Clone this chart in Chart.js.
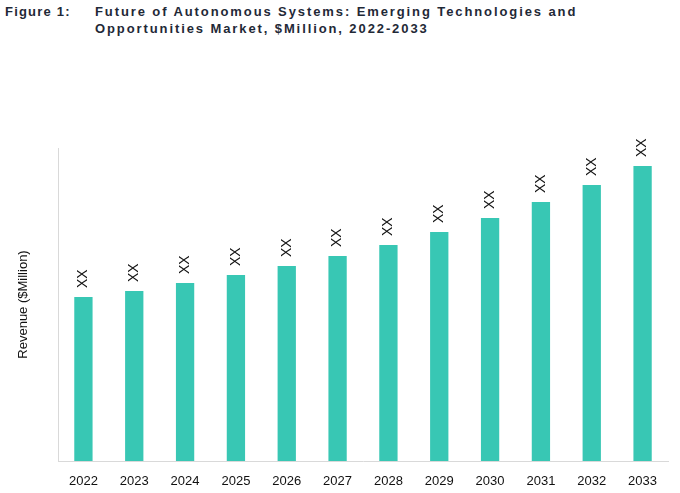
<!DOCTYPE html>
<html>
<head>
<meta charset="utf-8">
<script src="https://cdn.jsdelivr.net/npm/chart.js@4"></script>
<style>
  body { margin: 0; background: #fff; }
  #wrap { position: relative; width: 680px; height: 493px; }
  .title {
    position: absolute; top: 3px; left: 5px;
    font-family: "Liberation Sans", Arial, sans-serif;
    font-weight: bold; font-size: 13px; line-height: 17px;
    letter-spacing: 1.9px; color: #1f2937; white-space: nowrap;
  }
  .title .num { position: absolute; left: 0; top: 0; letter-spacing: 1.2px; }
  .title .txt { position: absolute; left: 90px; top: 0; }
  canvas { position: absolute; top: 0; left: 0; }
</style>
</head>
<body>
<div id="wrap">
  <div class="title">
    <span class="num">Figure&nbsp;1:</span>
    <span class="txt">Future of Autonomous Systems: Emerging Technologies and<br>Opportunities Market, $Million, 2022-2033</span>
  </div>
  <canvas id="chart" width="680" height="493"></canvas>
</div>
<script>
const years = ["2022", "2023", "2024", "2025", "2026", "2027", "2028", "2029", "2030", "2031", "2032", "2033"];
// values not published in the figure (shown as XX)
const revenue = [164, 170, 178, 186, 195, 205, 216, 229, 243, 259, 276, 295];
const valueLabels = ["XX", "XX", "XX", "XX", "XX", "XX", "XX", "XX", "XX", "XX", "XX", "XX"];
const yMax = 313;

Chart.defaults.font.family = "'Liberation Sans', Arial, sans-serif";

const xxLabels = {
  id: "xxLabels",
  afterDatasetsDraw(chart) {
    const ctx = chart.ctx;
    const meta = chart.getDatasetMeta(0);
    ctx.save();
    ctx.font = "14px 'Liberation Sans', Arial, sans-serif";
    ctx.fillStyle = "#111111";
    ctx.textAlign = "left";
    ctx.textBaseline = "middle";
    meta.data.forEach((bar, i) => {
      ctx.save();
      ctx.translate(bar.x, bar.y - 9);
      ctx.rotate(-Math.PI / 2);
      ctx.fillText(valueLabels[i], 0, 0);
      ctx.restore();
    });
    ctx.restore();
  },
};

new Chart(document.getElementById("chart"), {
  type: "bar",
  data: {
    labels: years,
    datasets: [
      {
        label: "Revenue",
        data: revenue,
        backgroundColor: "rgb(56, 199, 180)",
        barPercentage: 0.36,
        categoryPercentage: 1,
      },
    ],
  },
  options: {
    responsive: false,
    animation: false,
    layout: { padding: { top: 148, right: 12, left: 0, bottom: 0 } },
    scales: {
      y: {
        min: 0,
        max: yMax,
        ticks: { display: false },
        grid: { display: false },
        border: { color: "#d9d9d9" },
        title: {
          display: true,
          text: "Revenue ($Million)",
          color: "#111111",
          font: { size: 13 },
          padding: { top: 16 },
        },
        afterFit: (scale) => { scale.width = 58; },
      },
      x: {
        ticks: { color: "#111111", font: { size: 13 }, padding: 5 },
        grid: { display: false },
        border: { color: "#d9d9d9" },
        afterFit: (scale) => { scale.height = 32; },
      },
    },
    plugins: {
      legend: { display: false },
      tooltip: { enabled: false },
    },
  },
  plugins: [xxLabels],
});
</script>
</body>
</html>
